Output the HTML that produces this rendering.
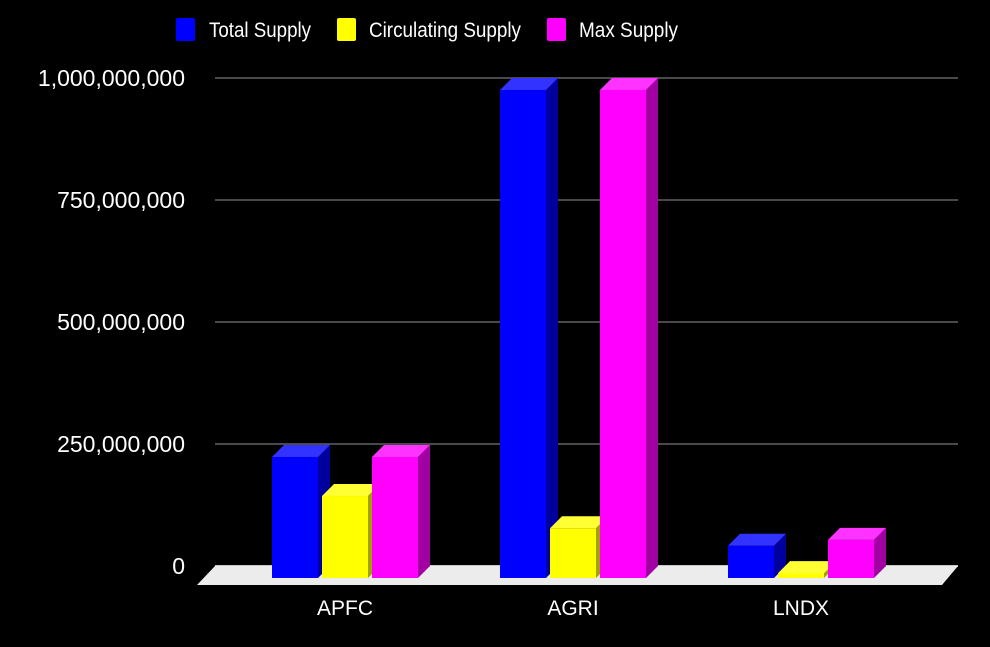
<!DOCTYPE html>
<html><head><meta charset="utf-8"><style>
html,body{margin:0;padding:0;background:#000;}
svg{display:block;font-family:"Liberation Sans",Arial,sans-serif;}
</style></head><body>
<svg id="chart" width="990" height="647" viewBox="0 0 990 647">
<rect width="990" height="647" fill="#000"/>
<g id="grid"></g>
<polygon points="215,566 958,566 942,585 197,585" fill="#ececec"/>
<g id="bars"></g>
<g id="labels"></g>
<g id="legend">
  <rect x="176" y="18" width="19" height="23" rx="2" fill="#0000ff"/>
  <text x="209" y="37" font-size="21" fill="#fff" textLength="102" lengthAdjust="spacingAndGlyphs">Total Supply</text>
  <rect x="337" y="18" width="19" height="23" rx="2" fill="#ffff00"/>
  <text x="369" y="37" font-size="21" fill="#fff" textLength="152" lengthAdjust="spacingAndGlyphs">Circulating Supply</text>
  <rect x="547" y="18" width="19" height="23" rx="2" fill="#ff00ff"/>
  <text x="579" y="37" font-size="21" fill="#fff" textLength="99" lengthAdjust="spacingAndGlyphs">Max Supply</text>
</g>
</svg>
<script>
const categories = ["APFC","AGRI","LNDX"];
const totalSupply = [248000000, 1000000000, 66000000];
const circulatingSupply = [168000000, 102000000, 10000000];
const maxSupply = [248000000, 1000000000, 78000000];
const tickValues = [0, 250000000, 500000000, 750000000, 1000000000];
const tickLabels = ["0","250,000,000","500,000,000","750,000,000","1,000,000,000"];

const NS = "http://www.w3.org/2000/svg";
const y0 = 566, pxPer = 122/250000000, depth = 12;
function yScale(v){ return y0 - v*pxPer; }
function groupX(i){ return 272 + i*228; }
const barW = 46, barGap = 4;
function mk(tag, attrs, parent){ const e = document.createElementNS(NS, tag); for (const k in attrs) e.setAttribute(k, attrs[k]); parent.appendChild(e); return e; }

const grid = document.getElementById('grid');
const labels = document.getElementById('labels');
tickValues.forEach((v,i)=>{
  const y = yScale(v);
  const ln = mk('line',{x1:215,x2:958,y1:y,y2:y,stroke: v===0?'#c8c8c8':'#4a4a4a','stroke-width':2},grid);
  
  
  const t = mk('text',{x:185,y:y+8,'font-size':23,fill:'#fff','text-anchor':'end'},labels);
  
  
  t.textContent = tickLabels[i];
});

const series = [
  {vals: totalSupply, front:'#0000ff', top:'#3333ff', side:'#00009f', name:'total'},
  {vals: circulatingSupply, front:'#ffff00', top:'#ffff33', side:'#a3a300', name:'circulating'},
  {vals: maxSupply, front:'#ff00ff', top:'#ff33ff', side:'#a300a3', name:'max'}
];
const bars = document.getElementById('bars');
categories.forEach((c,i)=>{
  series.forEach((s,j)=>{
    const x = groupX(i) + j*(barW+barGap);
    const h = s.vals[i]*pxPer;
    const yb = y0 + depth, yt = yb - h;
    const g = mk('g',{},bars);
    
    
    mk('polygon',{points:`${x+barW},${yt} ${x+barW+depth},${yt-depth} ${x+barW+depth},${yb-depth} ${x+barW},${yb}`,fill:s.side},g);
    mk('polygon',{points:`${x},${yt} ${x+depth},${yt-depth} ${x+barW+depth},${yt-depth} ${x+barW},${yt}`,fill:s.top},g);
    mk('rect',{x:x,y:yt,width:barW,height:h,fill:s.front},g);
  });
  const t = mk('text',{x:groupX(i)+73,y:615,'font-size':21,fill:'#fff','text-anchor':'middle'},labels);
  
  
  t.textContent = c;
});
</script>
</body></html>
